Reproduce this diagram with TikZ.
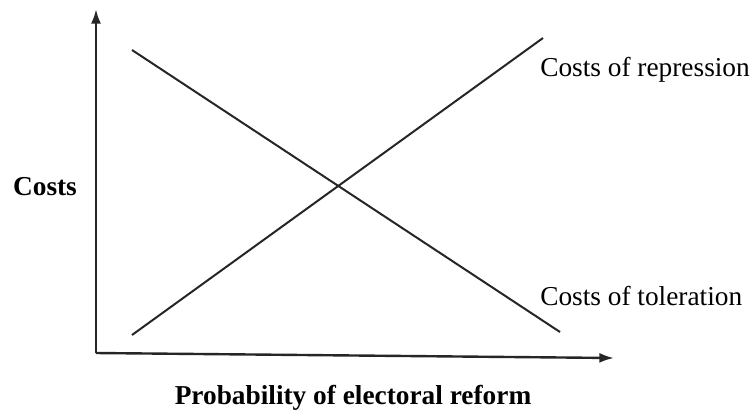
\documentclass[tikz,border=0pt]{standalone}
\usepackage{fontspec}
\setmainfont{Liberation Serif}
\usetikzlibrary{arrows.meta}

\begin{document}
\begin{tikzpicture}[
  x=0.75pt, y=-0.75pt,
  axis/.style={line width=1.8pt, draw=black!85, -{Latex[length=11pt,width=7.5pt]}},
  curve/.style={line width=1.5pt, draw=black!85},
  lbl/.style={font=\fontsize{20.5}{24}\selectfont, anchor=west, inner sep=0pt},
  axlbl/.style={font=\fontsize{20.5}{24}\selectfont\bfseries, inner sep=0pt},
]
\useasboundingbox (0,0) rectangle (755,411);

% Axes
\coordinate (o)  at (96,353);
\coordinate (yt) at (96,9);
\coordinate (xt) at (614,358);
\draw[axis] (o) -- (yt);
\draw[axis] (o) -- (xt);

% Cost curves
\coordinate (rep0) at (132,335);
\coordinate (rep1) at (543,38);
\coordinate (tol0) at (132,50);
\coordinate (tol1) at (560,332);
\draw[curve] (rep0) -- (rep1);
\draw[curve] (tol0) -- (tol1);

% Labels
\node[lbl] (replbl) at (540,70) {Costs of repression};
\node[lbl] (tollbl) at (540,296) {Costs of toleration};
\node[axlbl] (ylbl) at (45,187) {Costs};
\node[axlbl] (xlbl) at (353,398) {Probability of electoral reform};

\end{tikzpicture}
\end{document}
